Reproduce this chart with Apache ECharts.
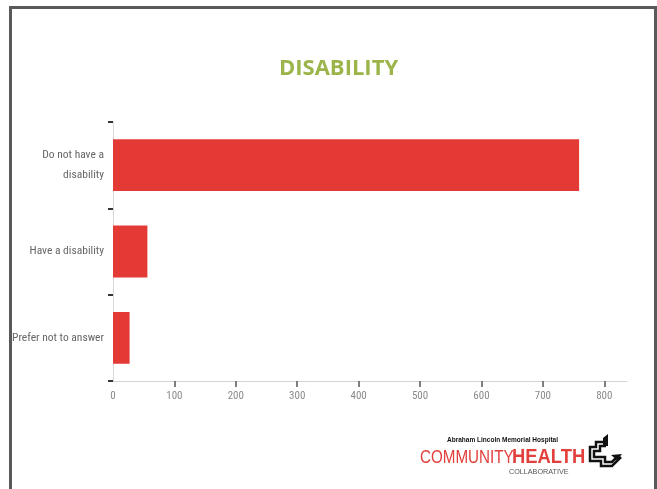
<!DOCTYPE html>
<html>
<head>
<meta charset="utf-8">
<script src="https://cdn.jsdelivr.net/npm/echarts@6/dist/echarts.min.js"></script>
<style>
  html, body { margin: 0; padding: 0; background: #ffffff; }
  #chart { width: 657px; height: 489px; }
</style>
</head>
<body>
<div id="chart"></div>
<script>
// Survey responses: disability status
const categories = ['Do not have a\ndisability', 'Have a disability', 'Prefer not to answer'];
const counts = [759, 56, 27];
const tickValues = [100, 200, 300, 400, 500, 600, 700, 800];
const labelValues = [0, 100, 200, 300, 400, 500, 600, 700, 800];

const chart = echarts.init(document.getElementById('chart'), null, { renderer: 'canvas' });

const labelFont = '"Roboto Condensed", "Liberation Sans Narrow", "Liberation Sans", sans-serif';

chart.setOption({
  animation: false,
  backgroundColor: '#ffffff',
  title: {
    text: 'DISABILITY',
    left: 274,
    top: 53,
    textStyle: {
      color: '#9bb54a',
      fontSize: 22,
      fontWeight: 'bold',
      fontFamily: '"Open Sans", "Lato", sans-serif'
    }
  },
  grid: { left: 113, right: 30, top: 122, bottom: 108, containLabel: false },
  xAxis: {
    type: 'value',
    min: 0,
    max: 837,
    interval: 100,
    axisLine: { show: true, lineStyle: { color: '#d4d4d4', width: 1 } },
    axisTick: {
      show: true,
      customValues: tickValues,
      length: 6,
      lineStyle: { color: '#555555', width: 1.5 }
    },
    axisLabel: {
      customValues: labelValues,
      color: '#8a8a8a',
      fontSize: 11,
      margin: 10,
      fontFamily: labelFont
    },
    splitLine: { show: false }
  },
  yAxis: {
    type: 'category',
    data: categories,
    inverse: true,
    axisLine: { show: true, lineStyle: { color: '#d9d9d9', width: 1 } },
    axisTick: { show: true, length: 5, lineStyle: { color: '#333333', width: 2 } },
    axisLabel: {
      color: '#666666',
      fontSize: 11.5,
      margin: 9,
      lineHeight: 20,
      align: 'right',
      fontFamily: labelFont
    }
  },
  series: [{
    type: 'bar',
    data: counts,
    barCategoryGap: '40%',
    itemStyle: { color: '#e43a36' }
  }],
  graphic: [
    {
      type: 'rect',
      shape: { x: 10.5, y: 7.5, width: 645, height: 520 },
      style: { fill: null, stroke: '#5a5a5a', lineWidth: 3 },
      silent: true
    },
    {
      type: 'text',
      x: 447, y: 437, scaleX: 0.93,
      style: { text: 'Abraham Lincoln Memorial Hospital', fill: '#111111', font: 'bold 7px "Liberation Sans", sans-serif' }
    },
    {
      type: 'text',
      x: 420, y: 448, scaleX: 0.8,
      style: { text: 'COMMUNITY', fill: '#e2403c', font: '19px "Liberation Sans", sans-serif' }
    },
    {
      type: 'text',
      x: 512, y: 447, scaleX: 0.92,
      style: { text: 'HEALTH', fill: '#e2403c', font: 'bold 20px "Liberation Sans", sans-serif' }
    },
    {
      type: 'text',
      x: 509, y: 468, scaleX: 0.9,
      style: { text: 'COLLABORATIVE', fill: '#555555', font: '8px "Liberation Sans", sans-serif' }
    },
    // stepped emblem beside the wordmark
    {
      type: 'polygon',
      shape: { points: [[603, 438], [608, 434], [608, 446], [603, 446]] },
      style: { fill: '#111111' }
    },
    {
      type: 'polyline',
      shape: { points: [[606, 446], [600, 446], [600, 451], [594, 451], [594, 457], [605, 457], [605, 462], [612, 462], [617, 457]] },
      style: { stroke: '#111111', lineWidth: 2.5, fill: null }
    },
    {
      type: 'polyline',
      shape: { points: [[603, 442], [596, 442], [596, 447], [590, 447], [590, 461], [601, 461], [601, 466], [612, 466], [621, 457]] },
      style: { stroke: '#111111', lineWidth: 2.5, fill: null }
    },
    {
      type: 'polygon',
      shape: { points: [[611, 455], [622, 454], [617, 460]] },
      style: { fill: '#111111' }
    }
  ]
});
</script>
</body>
</html>
